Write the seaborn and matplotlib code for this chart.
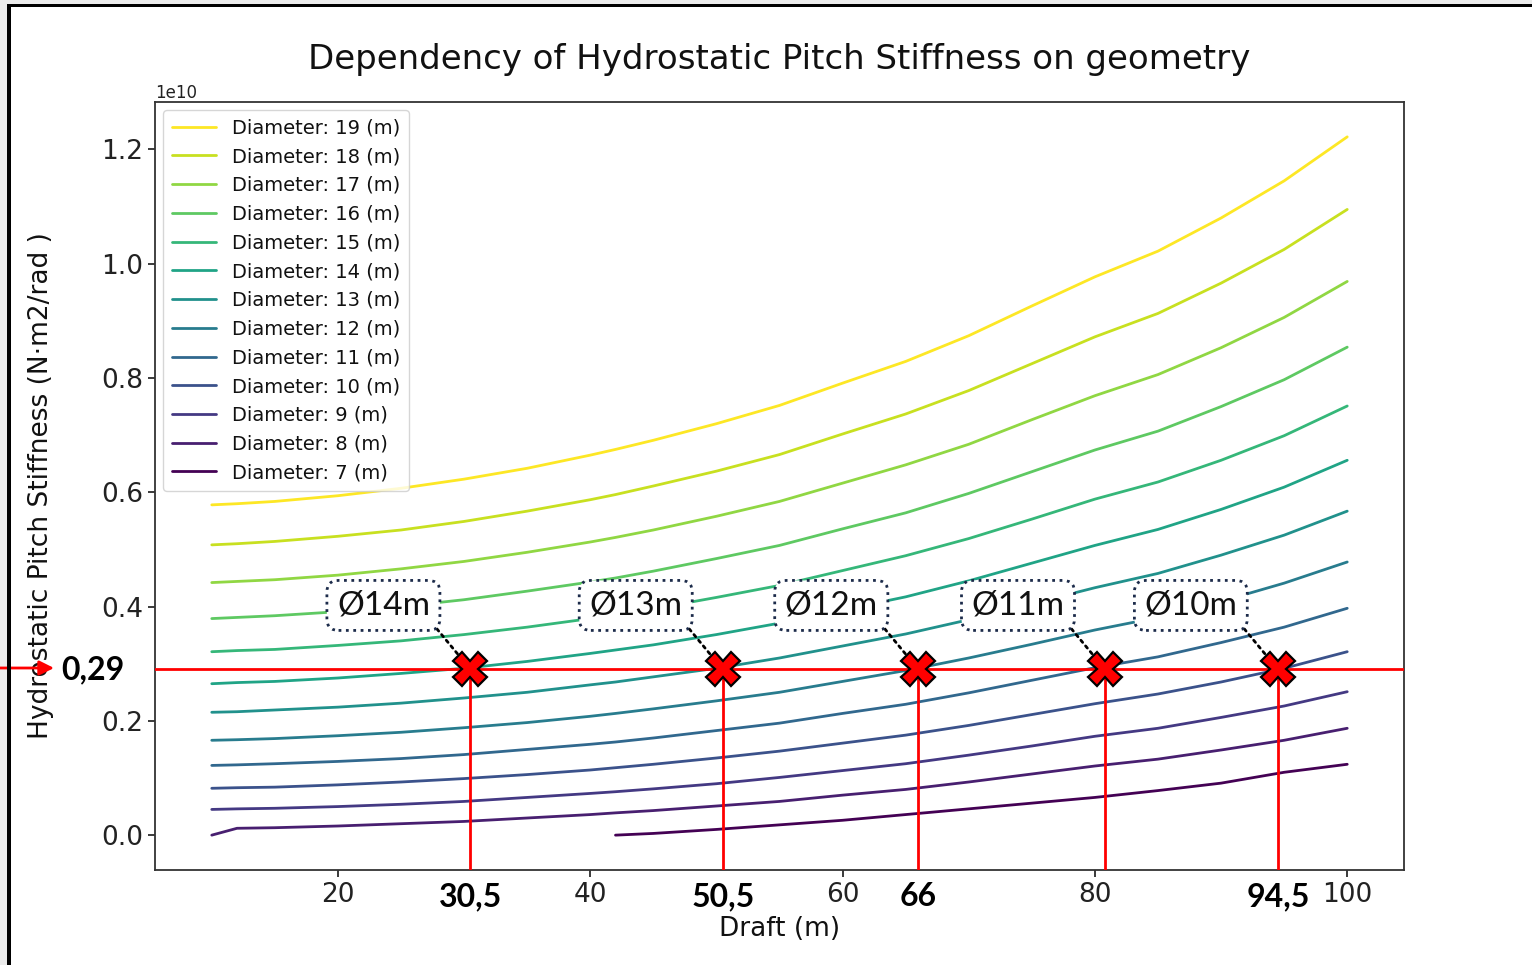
import numpy as np
import pandas as pd
import matplotlib
matplotlib.use("Agg")
import matplotlib.pyplot as plt
import matplotlib.transforms as mtransforms
from matplotlib.patches import Rectangle
import seaborn as sns

# ---------------- data (stiffness in units of 1e10 N·m2/rad) ----------------
drafts = [10, 12, 15, 20, 25, 30, 35, 40, 42, 45, 50, 55, 60, 65, 70, 75, 80, 85, 90, 95, 100]
diameters = [19, 18, 17, 16, 15, 14, 13, 12, 11, 10, 9, 8, 7]
nan = np.nan
d19 = [.578, .580, .584, .594, .607, .623, .642, .665, .675, .691, .720, .752, .791, .829, .874, .926, .977, 1.022, 1.080, 1.145, 1.222]
d18 = [.508, .510, .514, .523, .534, .549, .567, .587, .596, .611, .637, .666, .702, .737, .778, .825, .872, .913, .966, 1.025, 1.095]
d17 = [.442, .444, .447, .455, .466, .479, .495, .513, .521, .534, .558, .584, .616, .648, .684, .727, .769, .806, .853, .906, .969]
d16 = [.379, .381, .384, .391, .400, .412, .427, .443, .450, .462, .484, .507, .536, .564, .598, .636, .674, .707, .750, .797, .854]
d15 = [.321, .323, .325, .332, .340, .351, .364, .379, .386, .396, .416, .437, .463, .489, .519, .553, .588, .618, .656, .699, .751]
d14 = [.265, .267, .269, .275, .283, .292, .304, .318, .324, .333, .351, .371, .394, .417, .445, .476, .507, .535, .570, .609, .656]
d13 = [.215, .216, .219, .224, .231, .240, .250, .263, .268, .277, .292, .310, .331, .352, .377, .405, .433, .458, .490, .525, .567]
d12 = [.166, .167, .169, .174, .180, .188, .197, .208, .213, .221, .235, .250, .269, .288, .310, .334, .359, .381, .409, .441, .478]
d11 = [.122, .123, .125, .129, .134, .141, .150, .159, .163, .170, .183, .196, .213, .229, .249, .271, .293, .312, .337, .364, .397]
d10 = [.082, .083, .084, .088, .093, .099, .106, .114, .118, .124, .135, .147, .161, .175, .192, .211, .230, .247, .268, .292, .321]
d9 = [.045, .046, .047, .050, .054, .059, .066, .073, .076, .081, .090, .101, .113, .125, .140, .156, .173, .187, .206, .226, .251]
d8 = [.000, .012, .013, .016, .020, .024, .030, .036, .039, .043, .051, .059, .070, .080, .093, .107, .121, .133, .149, .166, .187]
d7 = [nan, nan, nan, nan, nan, nan, nan, nan, .000, .003, .010, .018, .026, .036, .046, .056, .066, .078, .091, .110, .124]
series = [d19, d18, d17, d16, d15, d14, d13, d12, d11, d10, d9, d8, d7]

level = 0.29                      # target stiffness (1e10)
cross_x = [30.5, 50.5, 66, 80.8, 94.5]
box_labels = ["Ø14m", "Ø13m", "Ø12m", "Ø11m", "Ø10m"]
bold_x = [30.5, 50.5, 66, 94.5]
bold_labels = ["30,5", "50,5", "66", "94,5"]
level_label = "0,29"

# ---------------- frame ----------------
rows = []
for dia, vals in zip(diameters, series):
    for x, v in zip(drafts, vals):
        if not np.isnan(v):
            rows.append({"Draft": x, "Stiffness": v * 1e10, "Label": f"Diameter: {dia} (m)"})
df = pd.DataFrame(rows)
hue_order = [f"Diameter: {d} (m)" for d in diameters]
cols = plt.cm.viridis(np.linspace(0, 1, len(diameters)))[::-1]
palette = dict(zip(hue_order, cols))

sns.set_theme(style="ticks")
plt.rcParams["font.family"] = ["DejaVu Sans"]
plt.rcParams["text.color"] = "#111111"
plt.rcParams["axes.labelcolor"] = "#111111"
W, H = 1532, 965
fig = plt.figure(figsize=(W / 100, H / 100), dpi=100)
fig.patch.set_facecolor("white")
ax = fig.add_axes([155 / W, 1 - 870 / H, (1404 - 155) / W, (870 - 102) / H])

sns.lineplot(data=df, x="Draft", y="Stiffness", hue="Label", hue_order=hue_order,
             palette=palette, linewidth=2, ax=ax, sort=True, estimator=None)

ax.set_xlim(5.5, 104.5)
ax.set_ylim(-0.061e10, 1.283e10)
ax.set_xticks([20, 40, 60, 80, 100])
ax.set_yticks(np.arange(0, 1.21, 0.2) * 1e10)
ax.tick_params(labelsize=19, length=5, colors="#222222")
ax.yaxis.get_offset_text().set_fontsize(12)
for s in ax.spines.values():
    s.set_color("#333333")
    s.set_linewidth(1.3)
ax.set_xlabel("Draft (m)", fontsize=19, labelpad=6)
ax.set_ylabel("Hydrostatic Pitch Stiffness (N·m2/rad )", fontsize=19, labelpad=34)
ax.set_title("Dependency of Hydrostatic Pitch Stiffness on geometry", fontsize=24.5, pad=24)

leg = ax.legend(loc="upper left", fontsize=14, handlelength=2.3, labelspacing=0.5,
                frameon=True, fancybox=True, framealpha=0.8, borderpad=0.45,
                borderaxespad=0.4)
leg.get_frame().set_edgecolor("#cccccc")

# ---------------- annotations ----------------
ax.axhline(level * 1e10, color="red", lw=2, zorder=4)
ax.vlines(cross_x, ax.get_ylim()[0], level * 1e10, color="red", lw=2, zorder=4)
ax.plot(cross_x, [level * 1e10] * len(cross_x), linestyle="none", marker="X",
        markersize=24, markerfacecolor="red", markeredgecolor="black",
        markeredgewidth=1.6, zorder=7)

callout_font = ["Lato", "DejaVu Sans"]
for x, lab in zip(cross_x, box_labels):
    ax.annotate(lab, xy=(x, level * 1e10), xytext=(-87, 64), textcoords="offset pixels",
                ha="center", va="center", fontsize=24, family=callout_font, zorder=6,
                bbox=dict(boxstyle="round,pad=0.3,rounding_size=0.35", fc="white",
                          ec="#1c2b4a", lw=2, ls=":"),
                arrowprops=dict(arrowstyle="-", ls=":", lw=2, color="black",
                                relpos=(1, 0), shrinkA=0, shrinkB=12))

trans = mtransforms.blended_transform_factory(ax.transData, ax.transAxes)
for x, t in zip(bold_x, bold_labels):
    ax.text(x, -0.035, t, transform=trans, ha="center", va="center", fontsize=23,
            fontweight="bold", family=callout_font, color="black")

fig.text(93 / W, 1 - 670 / H, level_label, ha="center", va="center", fontsize=23,
         fontweight="bold", family=callout_font, color="black", zorder=5)

# outer slide frame
fig.add_artist(Rectangle((0, 0), 7 / W, 1, transform=fig.transFigure, fc="#ebebeb", ec="none", zorder=0))
fig.add_artist(Rectangle((0, 1 - 3.5 / H), 1, 3.5 / H, transform=fig.transFigure, fc="#ebebeb", ec="none", zorder=0))
fig.add_artist(Rectangle((7 / W, 0), 3.5 / W, 1 - 3.5 / H, transform=fig.transFigure, fc="black", ec="none", zorder=1))
fig.add_artist(Rectangle((7 / W, 1 - 7 / H), 1, 3.5 / H, transform=fig.transFigure, fc="black", ec="none", zorder=1))

ax.annotate("", xy=(54, H - 668), xytext=(0, H - 668), xycoords="figure pixels",
            textcoords="figure pixels",
            arrowprops=dict(arrowstyle="-|>", color="red", lw=2, mutation_scale=22,
                            shrinkA=0, shrinkB=0))

fig.savefig("out.png", dpi=100)
